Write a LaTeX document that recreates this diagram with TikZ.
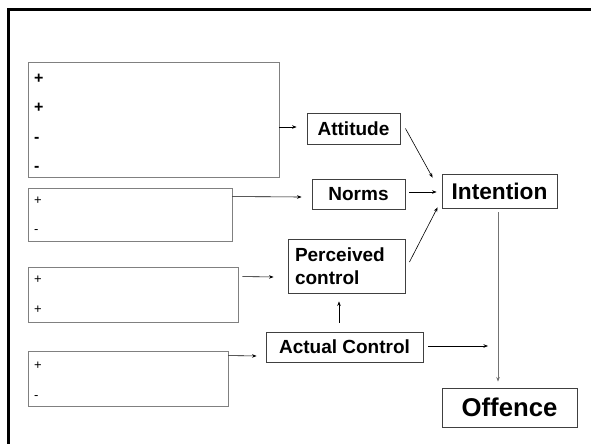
\documentclass[tikz,border=0pt]{standalone}
\usepackage{fontspec}
\setmainfont{Liberation Sans}
\usetikzlibrary{arrows.meta}
\begin{document}
\begin{tikzpicture}[x=1pt,y=-1pt,
  inbox/.style={draw=black!50,line width=0.9pt,inner sep=0pt},
  concept/.style={draw=black!75,line width=0.9pt,inner sep=0pt,font=\fontsize{19}{23}\selectfont\bfseries},
  bigsign/.style={anchor=base west,inner sep=0pt,font=\fontsize{16}{18}\selectfont\bfseries},
  sign/.style={anchor=base west,inner sep=0pt,font=\fontsize{13}{15}\selectfont},
  arr/.style={draw=black,line width=0.6pt,-{Stealth[length=4.5pt,width=3.5pt]}},
  grayarr/.style={draw=black!55,line width=0.9pt,-{Stealth[length=4.5pt,width=3.5pt,fill=black]}}]
\useasboundingbox (0,0) rectangle (591,444);
\fill[white] (0,0) rectangle (591,444);
% frame
\draw[line width=3pt] (591,9.5) -- (8.5,9.5) -- (8.5,444);
% input boxes
\node[inbox,minimum width=251,minimum height=115] (b1) at (153.5,119.5) {};
\node[inbox,minimum width=204,minimum height=53] (b2) at (130,214.5) {};
\node[inbox,minimum width=210,minimum height=55] (b3) at (133,294.5) {};
\node[inbox,minimum width=200,minimum height=55] (b4) at (128,378.5) {};
% signs
\node[bigsign] (s11) at (34,83) {+};
\node[bigsign] (s12) at (34,112) {+};
\node[bigsign] (s13) at (34,142) {-};
\node[bigsign] (s14) at (34,171) {-};
\node[sign] (s21) at (34,204.5) {+};
\node[sign] (s22) at (34,233) {-};
\node[sign] (s31) at (34,283.5) {+};
\node[sign] (s32) at (34,313.5) {+};
\node[sign] (s41) at (34,369.5) {+};
\node[sign] (s42) at (34,399) {-};
% concepts
\node[concept,minimum width=93,minimum height=31] (att) at (353.5,128.5) {Attitude};
\node[concept,minimum width=93,minimum height=30] (nrm) at (358.5,194) {Norms};
\node[concept,minimum width=115,minimum height=34,font=\fontsize{22.7}{26}\selectfont\bfseries] (int) at (499.5,191) {Intention};
\node[concept,text width=103,inner xsep=7pt,minimum height=54,align=left] (per) at (346.5,266) {Perceived\\control};
\node[concept,minimum width=157,minimum height=30] (act) at (344.5,347) {Actual Control};
\node[concept,minimum width=135,minimum height=39,font=\fontsize{25.7}{29}\selectfont\bfseries] (off) at (509.5,407.5) {Offence};
\coordinate (free) at (488,346);
% connectors
\draw[arr] ([shift={(0,7.5)}]b1.east) -- ([shift={(-10,-1.5)}]att.west);
\draw[arr] ([shift={(0,9)}]b2.north east) -- ([shift={(-10,3)}]nrm.west);
\draw[arr] ([shift={(4,10)}]b3.north east) -- ([shift={(-14,11)}]per.west);
\draw[arr] ([shift={(0,5)}]b4.north east) -- ([shift={(-9,9)}]act.west);
\draw[arr] ([shift={(5,0)}]att.east) -- ([shift={(-9,4)}]int.north west);
\draw[arr] ([shift={(4,-2)}]nrm.east) -- ([shift={(-5,1)}]int.west);
\draw[arr] ([shift={(4,-4)}]per.east) -- ([shift={(-4,-1)}]int.south west);
\draw[arr] ([shift={(-5.5,-9)}]act.north) -- ([shift={(-7.5,8)}]per.south);
\draw[arr] ([shift={(5,-1)}]act.east) -- (free);
\draw[grayarr] ([shift={(-1.5,4)}]int.south) -- ([shift={(-11.5,-6)}]off.north);
\end{tikzpicture}
\end{document}
